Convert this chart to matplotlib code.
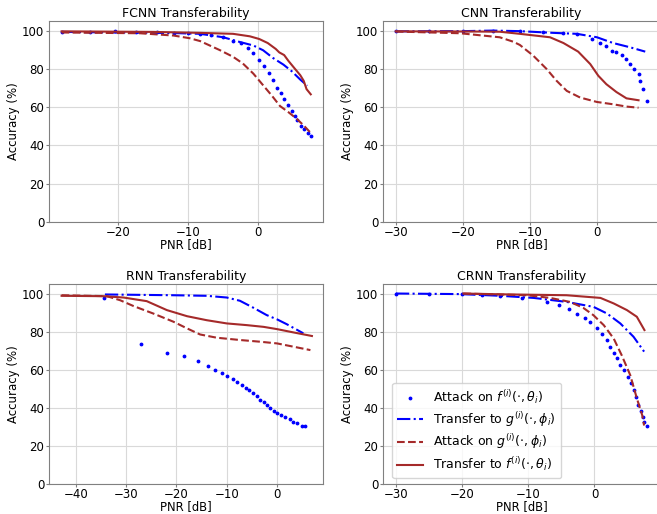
import matplotlib.pyplot as plt

# ---- FCNN ----
fcnn_atk_f_x = [-28, -24, -20.5, -17.5, -14.5, -12, -10, -8.3, -6.7, -5, -3.6, -2.5, -1.4, -0.7, 0.14, 0.86,
                1.5, 2.05, 2.7, 3.24, 3.7, 4.3, 4.8, 5.2, 5.6, 6.1, 6.6, 7.05, 7.5]
fcnn_atk_f_y = [99.5, 99.3, 99.6, 99.2, 99.3, 98.8, 98.5, 98.3, 97.9, 96.5, 94.8, 93.5, 90.7, 88.1, 84.8, 81.6,
                77.8, 74.1, 70.2, 67.3, 64.1, 61.0, 58.0, 55.3, 53.1, 50.4, 48.7, 46.6, 44.8]
fcnn_tr_g_x = [-28, -20.5, -12, -8.3, -5, -2.6, -0.7, 0.7, 2.1, 3.6, 4.8, 6.0, 7.0]
fcnn_tr_g_y = [99.3, 99.0, 98.7, 98.3, 96.5, 94.0, 92.2, 89.7, 85.7, 82.2, 78.7, 74.4, 71.2]
fcnn_atk_g_x = [-28.1, -16.9, -12.1, -9.8, -8.3, -5.5, -3.6, -2.2, -0.7, 0.7, 1.9, 3.1, 4.3, 5.5, 6.5, 7.4]
fcnn_atk_g_y = [99.0, 98.6, 97.4, 96.0, 94.5, 89.8, 86.3, 82.8, 77.5, 71.4, 66.2, 60.6, 57.4, 53.9, 50.4, 46.9]
fcnn_tr_f_x = [-28.1, -15, -8.3, -3.6, -1.2, 0.14, 1.35, 2.5, 3.0, 3.7, 4.3, 5.2, 6.0, 6.5, 6.9, 7.5]
fcnn_tr_f_y = [99.6, 99.3, 98.8, 98.3, 97.0, 95.6, 93.5, 90.4, 88.6, 87.2, 84.2, 80.2, 76.7, 73.7, 69.4, 66.7]

# ---- CNN ----
cnn_atk_f_x = [-30, -25, -20, -15.5, -11.5, -8, -5, -3, -0.8, 0.45, 1.3, 2.2, 2.9, 3.7, 4.3, 4.9, 5.5, 6.2, 6.4,
               6.9, 7.4]
cnn_atk_f_y = [99.7, 99.7, 99.7, 99.8, 99.6, 99.0, 98.5, 98.0, 95.6, 93.5, 91.8, 89.2, 88.6, 87.4, 85.1, 82.5,
               79.9, 77.2, 73.7, 69.4, 63.2]
cnn_tr_g_x = [-30, -20, -15.5, -11.5, -6.5, -3, 0, 2.4, 4.9, 7.2]
cnn_tr_g_y = [99.6, 99.7, 100.0, 99.7, 98.8, 98.3, 96.5, 93.5, 91.3, 89.0]
cnn_atk_g_x = [-30, -20.4, -14.5, -12.5, -11.5, -9.5, -7.5, -6, -4.5, -2.5, 0, 2.4, 4.4, 6.2]
cnn_atk_g_y = [99.5, 98.6, 96.5, 94.2, 92.5, 86.9, 79.9, 73.7, 68.5, 65.0, 62.7, 61.5, 60.3, 59.7]
cnn_tr_f_x = [-30, -18, -14.5, -11.5, -7, -5, -2.8, -1, 0.2, 1.4, 2.9, 4.4, 6.2]
cnn_tr_f_y = [99.6, 99.5, 99.4, 98.3, 96.5, 93.5, 89.0, 82.5, 76.4, 72.0, 67.9, 64.6, 63.6]

# ---- RNN ----
rnn_atk_f_x = [-34.3, -27.1, -21.9, -18.4, -15.8, -13.8, -12.3, -11, -9.9, -8.8, -7.9, -7, -6.2, -5.5, -4.7, -4,
               -3.4, -2.7, -2.1, -1.4, -0.7, 0, 0.7, 1.6, 2.5, 3.2, 4.0, 4.9, 5.6]
rnn_atk_f_y = [97.7, 73.3, 68.9, 67.0, 64.6, 62.0, 59.7, 58.1, 56.7, 55.1, 53.8, 52.0, 50.6, 49.2, 47.6, 46.1,
               44.3, 42.8, 41.4, 39.8, 38.4, 37.2, 36.1, 35.1, 34.0, 32.8, 31.8, 30.7, 30.2]
rnn_tr_g_x = [-34.2, -20.6, -14, -10, -7.4, -4.7, -2.1, 0, 1.9, 5.2]
rnn_tr_g_y = [99.5, 99.1, 98.8, 97.9, 96.2, 92.5, 88.7, 86.4, 83.9, 79.1]
rnn_atk_g_x = [-42.8, -33.8, -31.2, -28.5, -24.6, -20.6, -17.9, -15.3, -12, -7.4, -3.4, 0, 3.2, 6.6]
rnn_atk_g_y = [99.1, 98.6, 96.5, 93.4, 89.5, 85.2, 81.7, 78.5, 76.8, 75.6, 74.7, 73.8, 72.1, 70.3]
rnn_tr_f_x = [-42.8, -34.5, -30.5, -25.9, -21.9, -17.9, -14, -10, -6, -2.7, 0, 3.2, 6.9]
rnn_tr_f_y = [98.8, 98.6, 97.9, 96.0, 91.3, 88.1, 86.0, 84.3, 83.4, 82.5, 81.3, 79.6, 77.7]

# ---- CRNN ----
crnn_atk_f_x = [-30, -25, -20, -17, -14.2, -11, -7.2, -5.4, -3.9, -2.6, -1.4, -0.65, 0.35, 1.1, 1.9, 2.4, 2.9,
                3.4, 3.9, 4.5, 5.0, 5.5, 5.9, 6.3, 6.6, 7.0, 7.3, 7.5, 7.9]
crnn_atk_f_y = [99.7, 99.6, 99.5, 99.2, 98.8, 97.4, 95.3, 93.9, 91.8, 89.5, 86.9, 85.2, 82.0, 79.0, 75.5, 72.1,
                68.6, 66.0, 62.5, 59.8, 56.4, 52.9, 49.4, 45.9, 41.5, 38.1, 35.4, 32.8, 30.7]
crnn_tr_g_x = [-30, -20.3, -14.2, -9.2, -4.2, -0.15, 1.9, 3.9, 5.9, 7.5]
crnn_tr_g_y = [100.0, 99.7, 98.8, 97.7, 95.6, 93.0, 89.5, 84.3, 77.3, 69.5]
crnn_atk_g_x = [-19.8, -10.2, -6.7, -3.7, -1.7, -0.15, 1.4, 2.9, 4.1, 5.4, 6.4, 7.2, 7.5]
crnn_atk_g_y = [100.0, 99.1, 97.7, 95.6, 92.5, 88.6, 83.4, 76.4, 67.7, 57.2, 45.0, 36.3, 30.7]
crnn_tr_f_x = [-19.8, -14.2, -4.2, 0.9, 2.9, 4.9, 6.4, 7.55]
crnn_tr_f_y = [100.0, 99.6, 99.1, 97.7, 94.8, 91.3, 87.8, 80.8]

labels = [r'Attack on $f^{(i)}(\cdot, \theta_i)$',
          r'Transfer to $g^{(i)}(\cdot, \phi_i)$',
          r'Attack on $g^{(i)}(\cdot, \phi_i)$',
          r'Transfer to $f^{(i)}(\cdot, \theta_i)$']

BROWN = '#a52a2a'
FS = 8.5

W, H = 657, 514
fig = plt.figure(figsize=(W / 100, H / 100), dpi=100)


def make_ax(x0, y_top, x1, y_bot):
    return fig.add_axes([x0 / W, 1 - y_bot / H, (x1 - x0) / W, (y_bot - y_top) / H])


def plot_panel(ax, title, data, xlim, legend=False):
    (ax_x, ax_y), (bx, by), (cx, cy), (dx, dy) = data
    ax.plot(ax_x, ax_y, '.', color='blue', markersize=3.5, label=labels[0])
    ax.plot(bx, by, '-.', color='blue', lw=1.5, label=labels[1])
    ax.plot(cx, cy, '--', color=BROWN, lw=1.5, label=labels[2])
    ax.plot(dx, dy, '-', color=BROWN, lw=1.5, label=labels[3])
    ax.set_xlim(*xlim)
    ax.set_ylim(0, 105)
    ax.set_yticks([0, 20, 40, 60, 80, 100])
    ax.grid(True, color='#d9d9d9', lw=0.8)
    ax.set_axisbelow(True)
    for s in ax.spines.values():
        s.set_color('#808080')
    ax.tick_params(labelsize=FS, color='#808080', length=2.2, pad=1.2)
    ax.tick_params(axis='x', pad=0.6)
    ax.set_title(title, fontsize=9, pad=3)
    ax.set_xlabel('PNR [dB]', fontsize=8.3)
    ax.xaxis.set_label_coords(0.5, -0.08)
    ax.set_ylabel('Accuracy (%)', fontsize=FS, labelpad=1.5)
    if legend:
        ax.legend(loc='lower left', fontsize=9, handlelength=2.1, labelspacing=0.3,
                  borderaxespad=0, bbox_to_anchor=(9 / 277, 6 / 201))


ax1 = make_ax(49, 21, 323, 222)
plot_panel(ax1, 'FCNN Transferability',
           [(fcnn_atk_f_x, fcnn_atk_f_y), (fcnn_tr_g_x, fcnn_tr_g_y),
            (fcnn_atk_g_x, fcnn_atk_g_y), (fcnn_tr_f_x, fcnn_tr_f_y)], (-29.9, 9.25))

ax2 = make_ax(383, 21, 660, 222)
plot_panel(ax2, 'CNN Transferability',
           [(cnn_atk_f_x, cnn_atk_f_y), (cnn_tr_g_x, cnn_tr_g_y),
            (cnn_atk_g_x, cnn_atk_g_y), (cnn_tr_f_x, cnn_tr_f_y)], (-31.9, 9.4))

ax3 = make_ax(49, 284, 323, 484)
plot_panel(ax3, 'RNN Transferability',
           [(rnn_atk_f_x, rnn_atk_f_y), (rnn_tr_g_x, rnn_tr_g_y),
            (rnn_atk_g_x, rnn_atk_g_y), (rnn_tr_f_x, rnn_tr_f_y)], (-45.3, 9.1))

ax4 = make_ax(383, 284, 660, 484)
plot_panel(ax4, 'CRNN Transferability',
           [(crnn_atk_f_x, crnn_atk_f_y), (crnn_tr_g_x, crnn_tr_g_y),
            (crnn_atk_g_x, crnn_atk_g_y), (crnn_tr_f_x, crnn_tr_f_y)], (-31.95, 9.9), legend=True)

plt.savefig('out.png', dpi=100)
